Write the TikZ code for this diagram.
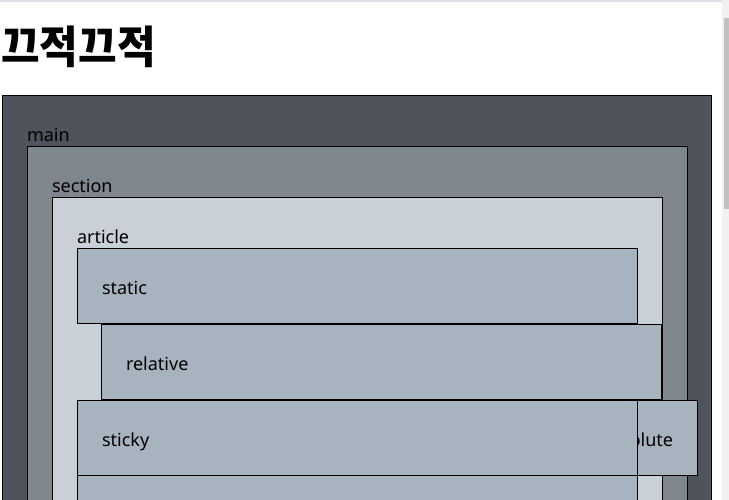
\documentclass[tikz,border=0pt]{standalone}
\usepackage{fontspec}
\setmainfont{Noto Sans}
\newfontfamily\krfont{Noto Sans CJK KR}
\definecolor{mainfill}{HTML}{4F545C}
\definecolor{sectionfill}{HTML}{7F868E}
\definecolor{articlefill}{HTML}{C9D0D8}
\definecolor{itemfill}{HTML}{A7B3BF}
\definecolor{topline}{HTML}{DEE1E6}
\definecolor{scrolltrack}{HTML}{F1F1F1}
\definecolor{scrollthumb}{HTML}{C1C1C1}
\begin{document}
\begin{tikzpicture}[line cap=round, line join=round, x=0.75pt, y=-0.75pt,
    boxlabel/.style={anchor=base west, inner sep=0pt, font=\fontsize{13.5pt}{16pt}\selectfont}]
                \useasboundingbox (0,0) rectangle (729,500);
                \clip (0,0) rectangle (729,500);
                \fill[topline] (0,0) rectangle (722,1.5);
                \fill[scrolltrack] (722,0) rectangle (729,500);
                \fill[scrollthumb] (724,18) rectangle (729,209);
                \node[anchor=base west, inner sep=0pt, yscale=1.06, font=\krfont\bfseries\fontsize{31.5pt}{36pt}\selectfont] (title) at (1,63.5) {끄적끄적};
                \foreach \name/\x/\y/\w/\h/\col in {main/2/95/709.5/600/mainfill, section/27/146/660/600/sectionfill, article/52/197/610/600/articlefill, static/77/248/560/75/itemfill, relative/101/324/560/75/itemfill, absolute/575/400/122/75/itemfill, sticky/77/400/560/75/itemfill}
                    \draw[fill=\col, line width=0.75pt] (\x,\y) rectangle ++(\w,\h) node[boxlabel] (\name) at (\x+24.5,\y+46) {\name};
                \draw[fill=itemfill, line width=0.75pt] (77,475) rectangle ++(560,100);
            \end{tikzpicture}
\end{document}
